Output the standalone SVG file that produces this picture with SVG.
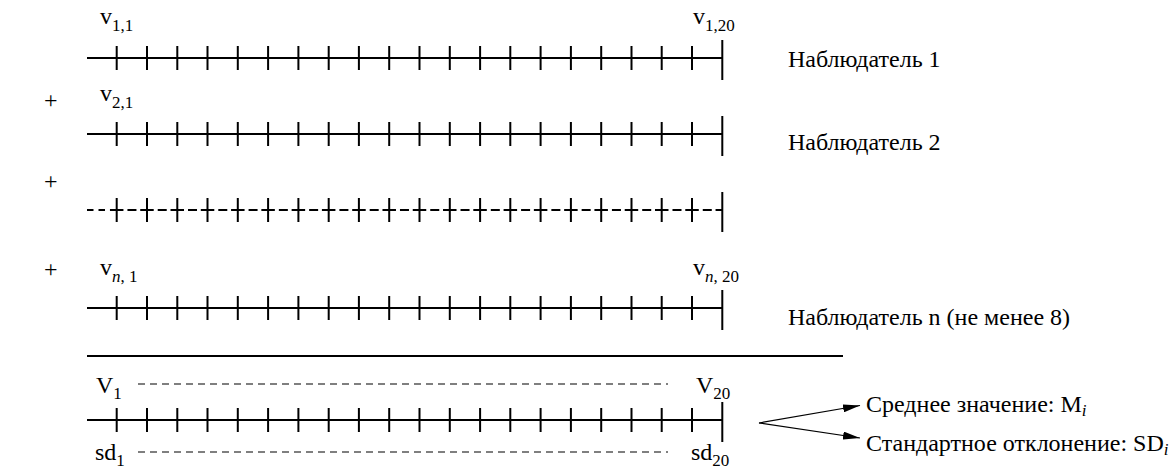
<svg xmlns="http://www.w3.org/2000/svg" width="1169" height="466" viewBox="0 0 1169 466">
<defs>
<style>
text{font-family:"Liberation Serif","Times New Roman",serif;font-size:24px;fill:#000}
.sub{font-size:17px}
.ax{stroke:#000;stroke-width:2;fill:none}
.thin{stroke:#000;stroke-width:1.2;fill:none;stroke-dasharray:7 5}
.con{stroke:#000;stroke-width:1.2;fill:none}
</style>
<marker id="ah" viewBox="0 0 17 8" refX="17" refY="4" markerWidth="17" markerHeight="8" markerUnits="userSpaceOnUse" orient="auto">
<path d="M0 0L17 4L0 8z" fill="#000"/>
</marker>
<path id="ticks" d="M116.7 -12v24M147 -12v24M177.3 -12v24M207.5 -12v24M237.8 -12v24M268.1 -12v24M298.4 -12v24M328.7 -12v24M358.9 -12v24M389.2 -12v24M419.5 -12v24M449.8 -12v24M480.1 -12v24M510.3 -12v24M540.6 -12v24M570.9 -12v24M601.2 -12v24M631.5 -12v24M661.7 -12v24M692 -12v24M722.3 -18v40"/>
</defs>
<rect width="1169" height="466" fill="#fff"/>
<g id="row1">
<path class="ax" d="M87 58H722.3"/>
<use href="#ticks" class="ax" y="58"/>
<text x="100" y="24">v<tspan class="sub" dy="7">1,1</tspan></text>
<text x="693" y="24">v<tspan class="sub" dy="7">1,20</tspan></text>
<text x="788" y="67">Наблюдатель 1</text>
</g>
<g id="row2">
<text x="44" y="108">+</text>
<path class="ax" d="M87 134H722.3"/>
<use href="#ticks" class="ax" y="134"/>
<text x="100" y="101">v<tspan class="sub" dy="7">2,1</tspan></text>
<text x="788" y="150">Наблюдатель 2</text>
</g>
<g id="row3">
<text x="44" y="189">+</text>
<path class="ax" d="M87 210h6.5M98.5 210h6.5"/>
<path class="ax" d="M109.95 210H722.3" stroke-dasharray="13.5 4 9 3.78"/>
<use href="#ticks" class="ax" y="210"/>
</g>
<g id="row4">
<text x="44" y="277">+</text>
<path class="ax" d="M87 308H722.3"/>
<use href="#ticks" class="ax" y="308"/>
<text x="100" y="275">v<tspan class="sub" dy="7"><tspan font-style="italic">n</tspan>, 1</tspan></text>
<text x="693" y="275">v<tspan class="sub" dy="7"><tspan font-style="italic">n</tspan>, 20</tspan></text>
<text x="788" y="325">Наблюдатель n (не менее 8)</text>
</g>
<g id="divider">
<path class="ax" d="M87 356H843"/>
</g>
<g id="result">
<path class="ax" d="M87 420H722.3"/>
<use href="#ticks" class="ax" y="420"/>
<text x="96" y="393">V<tspan class="sub" dy="6">1</tspan></text>
<path class="thin" d="M138 384H668"/>
<text x="696" y="393">V<tspan class="sub" dy="6">20</tspan></text>
<text x="95" y="460">sd<tspan class="sub" dy="6">1</tspan></text>
<path class="thin" d="M138 452H668"/>
<text x="691" y="460">sd<tspan class="sub" dy="6">20</tspan></text>
</g>
<g id="connectors">
<path class="con" d="M759 423L860 405.5" marker-end="url(#ah)"/>
<path class="con" d="M759 423L860 438" marker-end="url(#ah)"/>
</g>
<g id="mean">
<text x="866" y="412">Среднее значение: M<tspan class="sub" font-style="italic" dy="4">i</tspan></text>
</g>
<g id="sd">
<text x="866" y="451">Стандартное отклонение: SD<tspan class="sub" font-style="italic" dy="4">i</tspan></text>
</g>
</svg>
